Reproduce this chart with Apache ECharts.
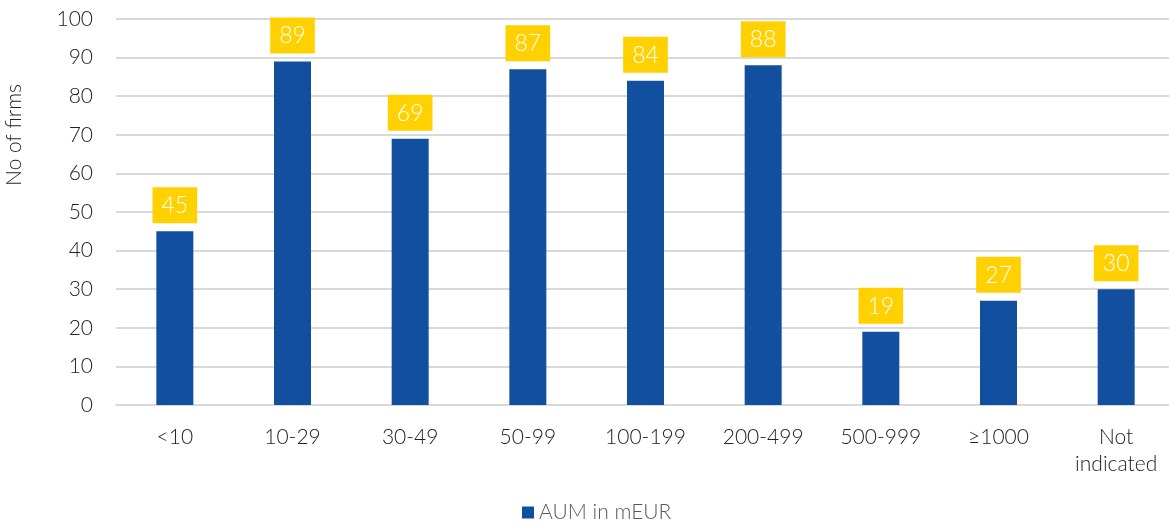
<!DOCTYPE html>
<html>
<head>
<meta charset="utf-8">
<script src="https://cdn.jsdelivr.net/npm/echarts@6/dist/echarts.min.js"></script>
<style>
  html, body { margin: 0; padding: 0; background: #fff; overflow: hidden; }
  /* the plot runs a few px past the right edge in the original */
  #chart { width: 1176px; height: 530px; }
</style>
</head>
<body>
<div id="chart"></div>
<script>
  // categories and values
  const categories = ['<10', '10-29', '30-49', '50-99', '100-199', '200-499', '500-999', '≥1000', 'Not\nindicated']
  const firms = [45, 89, 69, 87, 84, 88, 19, 27, 30]
  const seriesName = 'AUM in mEUR'

  const font = 'Lato, "Open Sans", sans-serif'
  const chart = echarts.init(document.getElementById('chart'))
  const option = {
    animation: false,
    textStyle: { fontFamily: font },
    grid: { left: 116, top: 19, width: 1059, height: 386, containLabel: false },
    graphic: [{
      type: 'text',
      left: 4,
      top: 84,
      rotation: Math.PI / 2,
      style: { text: 'No of firms', fill: '#222', font: '300 21px ' + font }
    }],
    legend: {
      bottom: 2,
      left: 517,
      itemWidth: 12,
      itemHeight: 12,
      icon: 'rect',
      itemGap: 7,
      textStyle: { color: '#595959', fontSize: 21, fontWeight: 300, fontFamily: font },
      data: [seriesName]
    },
    xAxis: {
      type: 'category',
      data: categories,
      axisLine: { lineStyle: { color: '#d9d9d9', width: 2 } },
      axisTick: { show: false },
      axisLabel: { color: '#222', fontSize: 21, fontWeight: 300, margin: 19, lineHeight: 27, interval: 0 }
    },
    yAxis: {
      type: 'value',
      min: 0,
      max: 100,
      interval: 10,
      axisLine: { show: false },
      axisTick: { show: false },
      axisLabel: { color: '#222', fontSize: 21, fontWeight: 300, margin: 23 },
      splitLine: { lineStyle: { color: '#d9d9d9', width: 2 } }
    },
    series: [{
      name: seriesName,
      type: 'bar',
      data: firms,
      barWidth: 37,
      itemStyle: { color: '#124F9F' },
      label: {
        show: true,
        position: 'top',
        distance: 8,
        color: '#fff',
        fontSize: 23,
        fontWeight: 300,
        backgroundColor: '#FFD100',
        padding: [7, 9, 6, 9]
      }
    }]
  }
  chart.setOption(option)
</script>
</body>
</html>
